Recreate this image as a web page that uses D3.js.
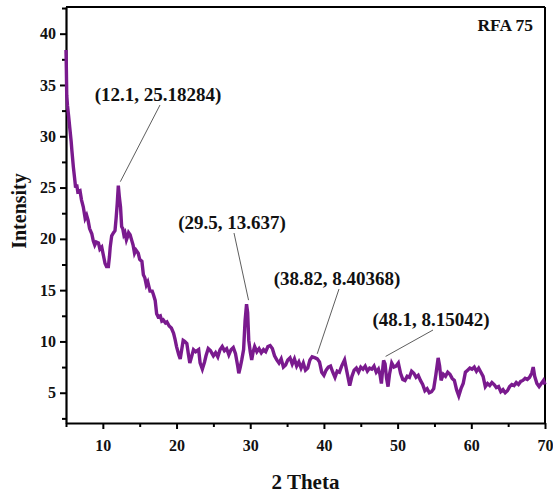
<!DOCTYPE html>
<html>
<head>
<meta charset="utf-8">
<title>RFA 75</title>
<style>
  body { margin: 0; background: #fff; }
  svg { display: block; background: #fff; font-family: "Liberation Serif", "Times New Roman", serif; font-weight: bold; }
  .axis path, .axis line { stroke: #000; }
  .axis text { font-family: "Liberation Serif", serif; font-weight: bold; font-size: 16px; fill: #111; }
</style>
</head>
<body>
<div id="chart"></div>
<script src="https://cdnjs.cloudflare.com/ajax/libs/d3/7.8.5/d3.min.js"></script>
<script>
// 2 theta (deg) and intensity
var twoTheta = [5.0,5.05,5.1,5.2,5.35,5.5,5.7,5.8,6.0,6.2,6.3,6.45,6.6,6.9,7.1,7.35,7.6,7.8,8.0,8.2,8.5,8.7,8.9,9.1,9.4,9.6,9.85,10.1,10.3,10.5,10.75,10.9,11.0,11.2,11.45,11.65,11.8,11.95,12.1,12.25,12.4,12.55,12.7,12.85,13.0,13.2,13.35,13.5,13.7,13.9,14.1,14.3,14.5,14.8,15.0,15.3,15.5,15.7,15.9,16.1,16.4,16.7,16.85,17.1,17.3,17.5,17.8,18.0,18.2,18.5,18.7,19.0,19.3,19.6,19.8,20.0,20.3,20.5,20.7,20.9,21.1,21.4,21.6,21.8,22.0,22.3,22.6,23.0,23.2,23.5,23.8,24.0,24.3,24.6,25.0,25.3,25.6,25.9,26.2,26.5,26.8,27.1,27.4,27.7,28.0,28.3,28.45,28.65,28.85,29.1,29.3,29.5,29.65,29.8,30.0,30.2,30.4,30.6,30.9,31.2,31.5,31.8,32.1,32.4,32.7,33.0,33.3,33.6,33.9,34.2,34.5,34.8,35.1,35.4,35.7,36.0,36.3,36.6,36.9,37.2,37.5,37.8,38.1,38.4,38.82,39.1,39.4,39.7,40.0,40.3,40.6,40.9,41.2,41.5,41.8,42.1,42.4,42.8,43.1,43.5,43.8,44.1,44.4,44.7,45.0,45.3,45.6,45.9,46.2,46.5,46.8,47.1,47.4,47.6,47.8,48.0,48.1,48.3,48.5,48.7,48.9,49.2,49.5,49.8,50.1,50.4,50.7,51.0,51.3,51.6,51.9,52.2,52.5,52.8,53.1,53.4,53.7,54.0,54.3,54.6,54.9,55.2,55.5,55.7,55.9,56.2,56.5,56.8,57.1,57.4,57.7,58.0,58.3,58.6,58.9,59.2,59.5,59.8,60.1,60.4,60.7,61.0,61.3,61.6,61.9,62.2,62.5,62.8,63.1,63.4,63.7,64.0,64.3,64.6,64.9,65.2,65.5,65.8,66.1,66.4,66.7,67.0,67.3,67.6,67.9,68.2,68.4,68.6,68.9,69.2,69.5,69.8,70.0];
var intensity = [38.4,36.5,34.0,33.0,32.0,30.9,29.5,28.6,27.0,25.7,25.0,25.3,24.6,24.7,23.8,23.1,22.0,22.3,21.8,21.0,20.5,19.8,19.4,19.7,19.6,19.0,19.2,18.3,17.6,17.3,17.3,18.3,19.2,20.3,20.6,20.8,22.0,23.4,25.18,24.0,23.1,21.2,21.0,20.4,20.6,19.9,20.2,20.6,20.4,19.9,19.4,18.6,18.9,18.6,18.0,17.8,16.5,16.2,15.5,15.8,14.9,14.9,14.6,14.0,12.7,12.4,12.5,12.0,12.1,11.8,11.9,11.5,11.3,10.8,10.2,9.5,8.7,8.3,9.2,10.1,10.0,9.8,8.8,7.9,8.4,9.2,9.0,9.2,7.9,7.3,8.0,8.6,9.3,9.1,8.6,8.9,8.5,9.2,9.5,9.1,9.3,8.7,9.2,9.4,8.8,7.6,6.9,7.5,8.2,9.2,12.0,13.64,12.8,10.1,9.0,8.2,9.0,9.5,9.0,9.3,8.9,9.2,9.0,9.5,9.6,9.3,8.6,8.2,7.9,8.3,7.5,7.7,8.2,8.4,7.8,8.3,7.6,8.0,7.4,7.9,7.2,7.4,8.2,8.5,8.40,8.3,8.0,7.0,6.7,7.2,7.5,7.6,7.0,6.5,7.1,7.0,7.6,8.2,7.1,5.7,6.6,7.2,7.4,7.0,7.5,7.3,7.6,7.1,7.4,7.3,7.6,7.0,7.3,6.8,5.9,7.5,8.15,7.8,6.4,5.6,6.8,7.9,7.5,7.6,7.9,6.9,6.3,6.2,6.6,6.5,7.1,6.9,6.5,6.7,6.2,5.8,5.2,5.4,5.0,5.1,5.4,6.8,8.4,7.6,6.2,6.8,6.6,7.0,6.8,6.4,6.2,5.3,4.7,5.4,5.9,7.0,7.2,7.4,7.3,7.5,7.1,7.4,7.0,6.6,5.6,5.9,5.7,6.0,5.8,5.5,5.6,5.1,5.3,5.0,5.2,5.6,5.8,5.7,6.0,5.8,6.1,6.2,6.4,6.3,6.5,6.9,7.5,6.6,5.9,5.6,5.9,6.2,5.8];

var xTicks = [10, 20, 30, 40, 50, 60, 70];
var yTicks = [5, 10, 15, 20, 25, 30, 35, 40];

// labelled peaks: [2theta, intensity, label]
var peakX = [12.1, 29.5, 38.82, 48.1];
var peakY = [25.18284, 13.637, 8.40368, 8.15042];
var peakLabels = ["(12.1, 25.18284)", "(29.5, 13.637)", "(38.82, 8.40368)", "(48.1, 8.15042)"];

var W = 553, H = 499;
var margin = {top: 7, right: 8, bottom: 76, left: 66};
var width = W - margin.left - margin.right;
var height = H - margin.top - margin.bottom;

var svg = d3.select("#chart").append("svg")
  .attr("width", W)
  .attr("height", H);

var g = svg.append("g")
  .attr("transform", "translate(" + margin.left + "," + margin.top + ")");

var x = d3.scaleLinear().domain([5, 70]).range([0, width]);
var y = d3.scaleLinear().domain([2.05, 42.6]).range([height, 0]);

// minor ticks first
g.append("g")
  .attr("class", "axis")
  .attr("transform", "translate(0," + height + ")")
  .call(d3.axisBottom(x).tickValues(d3.range(5, 70, 10)).tickSize(4).tickFormat(""))
  .call(function(s) { s.select(".domain").remove(); s.selectAll("line").attr("stroke-width", 2); });

g.append("g")
  .attr("class", "axis")
  .call(d3.axisLeft(y).tickValues(d3.range(2.5, 42.6, 5)).tickSize(4).tickFormat(""))
  .call(function(s) { s.select(".domain").remove(); s.selectAll("line").attr("stroke-width", 2); });

// major axes
var xAxis = g.append("g")
  .attr("class", "axis")
  .attr("transform", "translate(0," + height + ")")
  .call(d3.axisBottom(x).tickValues(xTicks).tickSize(6).tickSizeOuter(0).tickPadding(11));
xAxis.select(".domain").attr("stroke-width", 2.2);
xAxis.selectAll(".tick line").attr("stroke-width", 2);

var yAxis = g.append("g")
  .attr("class", "axis")
  .call(d3.axisLeft(y).tickValues(yTicks).tickSize(6).tickSizeOuter(0).tickPadding(4));
yAxis.select(".domain").attr("stroke-width", 2.2);
yAxis.selectAll(".tick line").attr("stroke-width", 2);

// top and right frame
g.append("line").attr("x1", 0).attr("x2", width).attr("y1", 0).attr("y2", 0)
  .attr("stroke", "#000").attr("stroke-width", 2.2);
g.append("line").attr("x1", width).attr("x2", width).attr("y1", 0).attr("y2", height)
  .attr("stroke", "#000").attr("stroke-width", 2);

// the pattern
var pts = twoTheta.map(function(d, i) { return [d, intensity[i]]; });
var line = d3.line()
  .x(function(d) { return x(d[0]); })
  .y(function(d) { return y(d[1]); });

g.append("path")
  .datum(pts)
  .attr("fill", "none")
  .attr("stroke", "#7a1a8e")
  .attr("stroke-width", 3.4)
  .attr("stroke-linejoin", "miter")
  .attr("d", line);

// peak annotations
var labelPos = [[158, 101], [232, 229], [337, 285], [431, 326]];
peakX.forEach(function(px, i) {
  var tx = labelPos[i][0], ty = labelPos[i][1];
  g.append("line")
    .attr("x1", tx - margin.left + 2)
    .attr("y1", ty - margin.top + 4)
    .attr("x2", x(px) + 2)
    .attr("y2", y(peakY[i]) - 4)
    .attr("stroke", "#333")
    .attr("stroke-width", 0.8);
  g.append("text")
    .attr("x", tx - margin.left)
    .attr("y", ty - margin.top)
    .attr("text-anchor", "middle")
    .attr("font-size", "19px")
    .attr("fill", "#111")
    .text(peakLabels[i]);
});

// sample name
g.append("text")
  .attr("x", width - 12)
  .attr("y", 24)
  .attr("text-anchor", "end")
  .attr("font-size", "17.5px")
  .attr("fill", "#111")
  .text("RFA 75");

// axis titles
svg.append("text")
  .attr("x", margin.left + width / 2)
  .attr("y", 489)
  .attr("text-anchor", "middle")
  .attr("font-size", "21px")
  .attr("fill", "#111")
  .text("2 Theta");

svg.append("text")
  .attr("transform", "translate(26,211) rotate(-90)")
  .attr("text-anchor", "middle")
  .attr("font-size", "20px")
  .attr("fill", "#111")
  .text("Intensity");
</script>
</body>
</html>
